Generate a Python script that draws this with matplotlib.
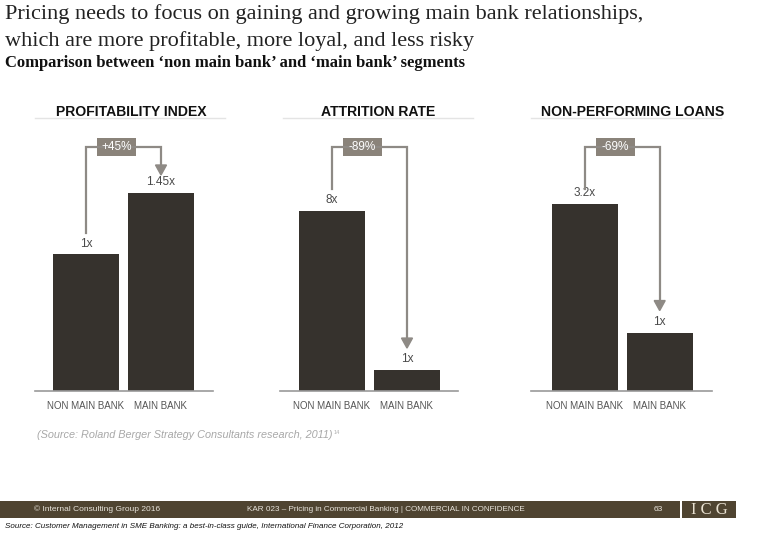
import matplotlib
matplotlib.use("Agg")
import matplotlib.pyplot as plt
from matplotlib.patches import Rectangle, Polygon
from matplotlib.lines import Line2D
from matplotlib.transforms import IdentityTransform

# ---------------- data ----------------
panel_titles = ["PROFITABILITY INDEX", "ATTRITION RATE", "NON-PERFORMING LOANS"]
categories = ["NON MAIN BANK", "MAIN BANK"]
profitability = [1.0, 1.45]
attrition = [8.6, 1.0]
npl = [3.2, 1.0]
value_labels = [["1x", "1.45x"], ["8x", "1x"], ["3.2x", "1x"]]
change_labels = ["+45%", "-89%", "-69%"]
source_note = "(Source: Roland Berger Strategy Consultants research, 2011)"
footer_left = "© Internal Consulting Group 2016"
footer_mid = "KAR 023 – Pricing in Commercial Banking | COMMERCIAL IN CONFIDENCE"
footer_page = "63"
bottom_source = ("Source: Customer Management in SME Banking: a best-in-class guide, "
                 "International Finance Corporation, 2012")
title_lines = ["Pricing needs to focus on gaining and growing main bank relationships,",
               "which are more profitable, more loyal, and less risky"]
subtitle = "Comparison between \u2018non main bank\u2019 and \u2018main bank\u2019 segments"

series = [profitability, attrition, npl]

# ---------------- layout / style ----------------
W, H = 780, 540
fig = plt.figure(figsize=(7.8, 5.4), dpi=100)
fig.patch.set_facecolor("white")

def fx(x):
    return x / W

def fy(y):
    return 1 - y / H

BAR = "#36322d"
ARROW = "#8e8a85"
BOX = "#8a837a"
FOOT = "#4f4431"

# panel geometry in pixels: (left, right, center0, center1, tallest bar px)
panels = [
    (35, 213, 86.0, 161.0, 198),
    (280, 458, 331.5, 407.0, 180),
    (531, 712, 584.7, 659.7, 187),
]
header_lines = [(35, 225), (283, 473), (531, 721)]
header_cx = [131, 378, 633]
base_y, top_y = 391, 130
arrow_y = 147
start_gaps = [21, 22, 15]
tip_gaps = [18, 22, 22]

sans = ["Liberation Sans", "DejaVu Sans"]
serif = ["Liberation Serif", "DejaVu Serif"]

# titles
fig.text(fx(5), fy(14), title_lines[0], family=serif, fontsize=16.0,
         color="#222222", va="center", ha="left")
fig.text(fx(5), fy(41), title_lines[1], family=serif, fontsize=16.0,
         color="#222222", va="center", ha="left")
fig.text(fx(5), fy(63), subtitle, family=serif, fontsize=12, weight="bold",
         color="#111111", va="center", ha="left")

for i, (L, R, c0, c1, tall) in enumerate(panels):
    vals = series[i]
    unit = (c1 - c0)
    xmin = -(c0 - L) / unit
    xmax = xmin + (R - L) / unit
    ax = fig.add_axes([fx(L), fy(base_y), (R - L) / W, (base_y - top_y) / H])
    ax.set_xlim(xmin, xmax)
    ymax = max(vals) * (base_y - top_y) / tall
    ax.set_ylim(0, ymax)
    ax.bar([0, 1], vals, width=66 / unit, color=BAR, zorder=2)
    for s in ["top", "left", "right"]:
        ax.spines[s].set_visible(False)
    ax.spines["bottom"].set_color("#9a9a9a")
    ax.spines["bottom"].set_linewidth(1.2)
    ax.set_yticks([])
    ax.set_xticks([0, 1])
    ax.set_xticklabels(categories, family=sans, fontsize=7, color="#555555")
    ax.tick_params(axis="x", length=0, pad=7)
    ax.patch.set_alpha(0)

    # value labels
    for j, v in enumerate(vals):
        ax.annotate(value_labels[i][j], (j, v), xytext=(0, 3.5),
                    textcoords="offset points", ha="center", va="bottom",
                    family=sans, fontsize=8.5, color="#4a4a4a")

    # header
    fig.text(fx(header_cx[i]), fy(112), panel_titles[i], family=sans,
             fontsize=10.1, weight="bold", color="#111111", ha="center", va="center")
    hl0, hl1 = header_lines[i]
    fig.add_artist(Line2D([fx(hl0), fx(hl1)], [fy(117.5), fy(117.5)],
                          color="#e4e4e4", lw=1.0))

    # arrow (computed in display pixels)
    td = ax.transData
    p0 = td.transform((0, vals[0]))
    p1 = td.transform((1, vals[1]))
    ytop_disp = (1 - arrow_y / H) * H
    x0d, y0d = p0[0], p0[1] + start_gaps[i]
    x1d, y1d = p1[0], p1[1] + tip_gaps[i]
    fig.add_artist(Line2D([x0d, x0d, x1d, x1d], [y0d, ytop_disp, ytop_disp, y1d + 8],
                          color=ARROW, lw=1.6, transform=IdentityTransform(),
                          solid_joinstyle="miter"))
    fig.add_artist(Polygon([[x1d - 5.5, y1d + 10], [x1d + 5.5, y1d + 10], [x1d, y1d]],
                           closed=True, facecolor=ARROW, edgecolor=ARROW,
                           transform=IdentityTransform()))
    bx = x0d + 0.41 * (x1d - x0d)
    fig.add_artist(Rectangle((bx - 19.5, ytop_disp - 9), 39, 18, facecolor=BOX,
                             edgecolor="none", transform=IdentityTransform()))
    fig.text(bx / W, ytop_disp / H, change_labels[i], family=sans, fontsize=8.5,
             color="white", ha="center", va="center")

# source note
fig.text(fx(37), fy(435), source_note, family=sans, fontsize=7.8, style="italic",
         color="#a8a8a8", ha="left", va="center")
fig.text(fx(334), fy(432), "14", family=sans, fontsize=4, color="#b0b0b0",
         ha="left", va="center")

# footer
fig.add_artist(Rectangle((0, fy(518)), fx(680), (518 - 501) / H,
                         facecolor=FOOT, edgecolor="none", transform=fig.transFigure))
fig.add_artist(Rectangle((fx(682), fy(518)), fx(736) - fx(682), (518 - 501) / H,
                         facecolor=FOOT, edgecolor="none", transform=fig.transFigure))
fig.text(fx(97), fy(509.5), footer_left, family=sans, fontsize=6, color="#e8e4dc",
         ha="center", va="center")
fig.text(fx(386), fy(509.5), footer_mid, family=sans, fontsize=5.9, color="#e8e4dc",
         ha="center", va="center")
fig.text(fx(658), fy(509.5), footer_page, family=sans, fontsize=6, color="#e8e4dc",
         ha="center", va="center")
fig.text(fx(709), fy(510), "I C G", family=serif, fontsize=12, color="#e8e0d0",
         ha="center", va="center")
fig.text(fx(5), fy(527), bottom_source, family=sans, fontsize=5.8, style="italic",
         color="#111111", ha="left", va="center")

fig.savefig("out.png", dpi=100)
